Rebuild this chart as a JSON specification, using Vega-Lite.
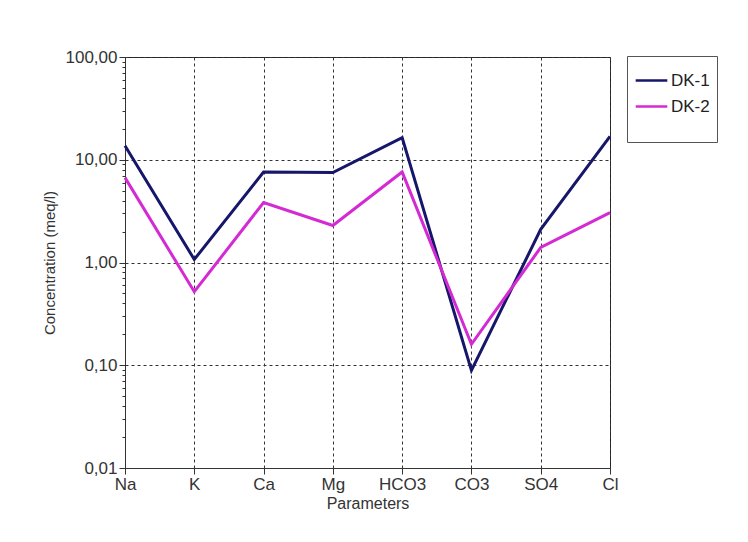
{
  "$schema": "https://vega.github.io/schema/vega-lite/v6.json",
  "autosize": {"type": "none"},
  "padding": {"left": 125, "top": 57, "right": 138, "bottom": 74},
  "width": 485,
  "height": 411,
  "background": "white",
  "config": {
    "locale": {"number": {"decimal": ",", "thousands": ".", "grouping": [3], "currency": ["", " €"]}},
    "font": "Liberation Sans",
    "view": {"stroke": "#222", "strokeWidth": 1}
  },
  "data": {"values": [
    {"param": "Na", "series": "DK-1", "value": 13.7},
    {"param": "K", "series": "DK-1", "value": 1.07},
    {"param": "Ca", "series": "DK-1", "value": 7.6},
    {"param": "Mg", "series": "DK-1", "value": 7.5},
    {"param": "HCO3", "series": "DK-1", "value": 16.4},
    {"param": "CO3", "series": "DK-1", "value": 0.089},
    {"param": "SO4", "series": "DK-1", "value": 2.1},
    {"param": "Cl", "series": "DK-1", "value": 16.9},
    {"param": "Na", "series": "DK-2", "value": 6.7},
    {"param": "K", "series": "DK-2", "value": 0.52},
    {"param": "Ca", "series": "DK-2", "value": 3.83},
    {"param": "Mg", "series": "DK-2", "value": 2.29},
    {"param": "HCO3", "series": "DK-2", "value": 7.6},
    {"param": "CO3", "series": "DK-2", "value": 0.16},
    {"param": "SO4", "series": "DK-2", "value": 1.4},
    {"param": "Cl", "series": "DK-2", "value": 3.06}
  ]},
  "mark": {"type": "line", "strokeWidth": 3},
  "encoding": {
    "x": {
      "field": "param", "type": "ordinal", "sort": null,
      "scale": {"type": "point", "padding": 0},
      "axis": {
        "title": "Parameters", "titleFontSize": 16, "titleFontWeight": "normal", "titleColor": "#333", "titlePadding": 3,
        "labelAngle": 0, "labelFontSize": 17, "labelColor": "#333", "labelPadding": 2,
        "domainColor": "#333", "tickColor": "#333", "tickSize": 6,
        "grid": true, "gridDash": [3, 3], "gridColor": "#333", "gridOpacity": 1
      }
    },
    "y": {
      "field": "value", "type": "quantitative",
      "scale": {"type": "log", "domain": [0.01, 100], "nice": false},
      "axis": {
        "title": "Concentration (meq/l)", "titleFontSize": 15, "titleFontWeight": "normal", "titleColor": "#333", "titlePadding": 8,
        "values": [0.01,0.02,0.03,0.04,0.05,0.06,0.07,0.08,0.09,0.1,0.2,0.3,0.4,0.5,0.6,0.7,0.8,0.9,1,2,3,4,5,6,7,8,9,10,20,30,40,50,60,70,80,90,100],
        "labelExpr": "abs(log(datum.value)/LN10 - round(log(datum.value)/LN10)) < 0.000001 ? format(datum.value, '.2f') : ''",
        "labelFontSize": 17, "labelColor": "#333", "labelPadding": 2,
        "domainColor": "#333", "tickColor": "#333",
        "tickSize": {"condition": {"test": "abs(log(datum.value)/LN10 - round(log(datum.value)/LN10)) < 0.000001", "value": 6}, "value": 3},
        "grid": true, "gridDash": [3, 3], "gridColor": "#333",
        "gridOpacity": {"condition": {"test": "abs(log(datum.value)/LN10 - round(log(datum.value)/LN10)) < 0.000001", "value": 1}, "value": 0}
      }
    },
    "color": {
      "field": "series", "type": "nominal",
      "scale": {"domain": ["DK-1", "DK-2"], "range": ["#16166a", "#d42ad4"]},
      "legend": {
        "title": " ", "titleOrient": "bottom", "titleFontSize": 14, "titlePadding": 6,
        "orient": "none", "legendX": 502, "legendY": -1,
        "symbolType": "stroke", "symbolStrokeWidth": 2.5, "symbolSize": 1000,
        "labelFontSize": 17, "labelColor": "#222", "labelOffset": 2,
        "strokeColor": "#555", "fillColor": "white", "padding": 7, "rowPadding": -9
      }
    }
  }
}
